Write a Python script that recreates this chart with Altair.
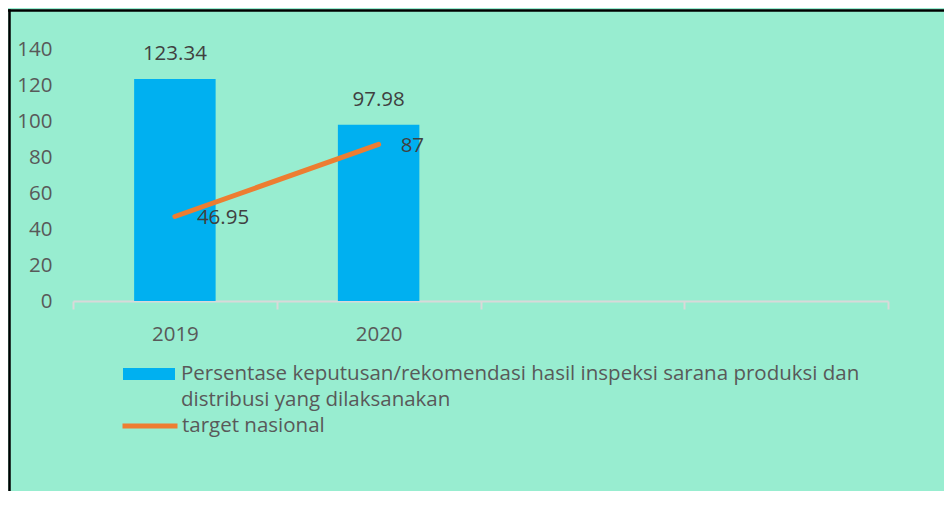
import json
import altair as alt
import pandas as pd

# ---- data ----
categories = ["2019", "2020", " ", "  "]
years = ["2019", "2020"]
bar_values = [123.34, 97.98]
target_values = [46.95, 87]
y_ticks = [0, 20, 40, 60, 80, 100, 120, 140]
bar_series = "Persentase keputusan/rekomendasi hasil inspeksi sarana produksi dan distribusi yang dilaksanakan"
bar_series_lines = ["Persentase keputusan/rekomendasi hasil inspeksi sarana produksi dan",
                    "distribusi yang dilaksanakan"]
line_series = "target nasional"

BG = "#98EDD0"
FONT = "Open Sans"
FS = 20.5

bars_df = pd.DataFrame({"year": years, "value": bar_values, "series": [bar_series] * len(years)})
line_df = pd.DataFrame({"year": years, "value": target_values, "series": [line_series] * len(years)})

x_scale = alt.Scale(domain=categories, paddingInner=0, paddingOuter=0)
y_scale = alt.Scale(domain=[0, 140], nice=False)

x_axis = alt.Axis(title=None, labelAngle=0, domainColor="#D9D9D9", domainWidth=2,
                  tickColor="#D9D9D9", tickWidth=2, tickSize=8, tickBand="extent",
                  labelFontSize=FS, labelColor="#595959", labelFont=FONT, labelPadding=15,
                  grid=False, labelOverlap=False)
y_axis = alt.Axis(title=None, values=y_ticks, domain=False, ticks=False, tickSize=0,
                  grid=False, labelFontSize=FS, labelColor="#595959", labelFont=FONT,
                  labelPadding=21, labelOverlap=False)


def X():
    return alt.X("year:N", scale=x_scale, axis=x_axis, sort=categories)


def Y():
    return alt.Y("value:Q", scale=y_scale, axis=y_axis)


bars = alt.Chart(bars_df).mark_bar(color="#00B0F0", width=alt.RelativeBandSize(0.4)).encode(
    x=X(),
    y=Y(),
    color=alt.Color("series:N",
                    scale=alt.Scale(domain=[bar_series], range=["#00B0F0"]),
                    legend=alt.Legend(orient="none", legendX=50, legendY=299, title=None,
                                      symbolType="M-1,-0.23H1V0.23H-1Z", symbolSize=2704,
                                      symbolStrokeWidth=0, labelFontSize=FS,
                                      labelColor="#595959", labelFont=FONT, labelLimit=1000,
                                      labelExpr=json.dumps(bar_series_lines),
                                      labelOffset=6)),
)

bar_labels = alt.Chart(bars_df).mark_text(fontSize=FS, font=FONT, color="#404040",
                                          baseline="alphabetic", dy=-19).encode(
    x=X(), y=Y(), text=alt.Text("value:Q"),
)

line = alt.Chart(line_df).mark_line(strokeWidth=5, strokeCap="round").encode(
    x=X(),
    y=Y(),
    stroke=alt.Stroke("series:N",
                      scale=alt.Scale(domain=[line_series], range=["#ED7D31"]),
                      legend=alt.Legend(orient="none", legendX=47, legendY=347, title=None,
                                        symbolType="M-1,0H1", symbolSize=3025,
                                        symbolStrokeWidth=5, labelFontSize=FS,
                                        labelColor="#595959", labelFont=FONT,
                                        labelLimit=1000, labelOffset=2)),
)

line_labels = alt.Chart(line_df).mark_text(fontSize=FS, font=FONT, color="#404040",
                                           align="left", baseline="middle", dx=22, dy=2).encode(
    x=X(), y=Y(), text=alt.Text("value:Q"),
)

# frame border (top and left edges of the original chart box)
border_top = alt.Chart(bars_df).mark_rule(color="#000000", strokeWidth=2).encode(
    x=alt.value(-66), x2=alt.value(900), y=alt.value(-38.5))
border_left = alt.Chart(bars_df).mark_rule(color="#000000", strokeWidth=2).encode(
    x=alt.value(-63.5), y=alt.value(-39.5), y2=alt.value(460))

chart = alt.layer(bars, line, bar_labels, line_labels, border_top, border_left).resolve_scale(
    color="independent", stroke="independent"
).properties(
    width=815, height=252, background=BG,
    padding={"left": 65, "top": 41, "right": 56, "bottom": 190},
    autosize=alt.AutoSizeParams(type="none"),
).configure(
    view=alt.ViewConfig(strokeWidth=0),
    style={"guide-label": {"lineHeight": 26}},
)

chart.save("out.html", embed_options={"renderer": "svg", "actions": False})
